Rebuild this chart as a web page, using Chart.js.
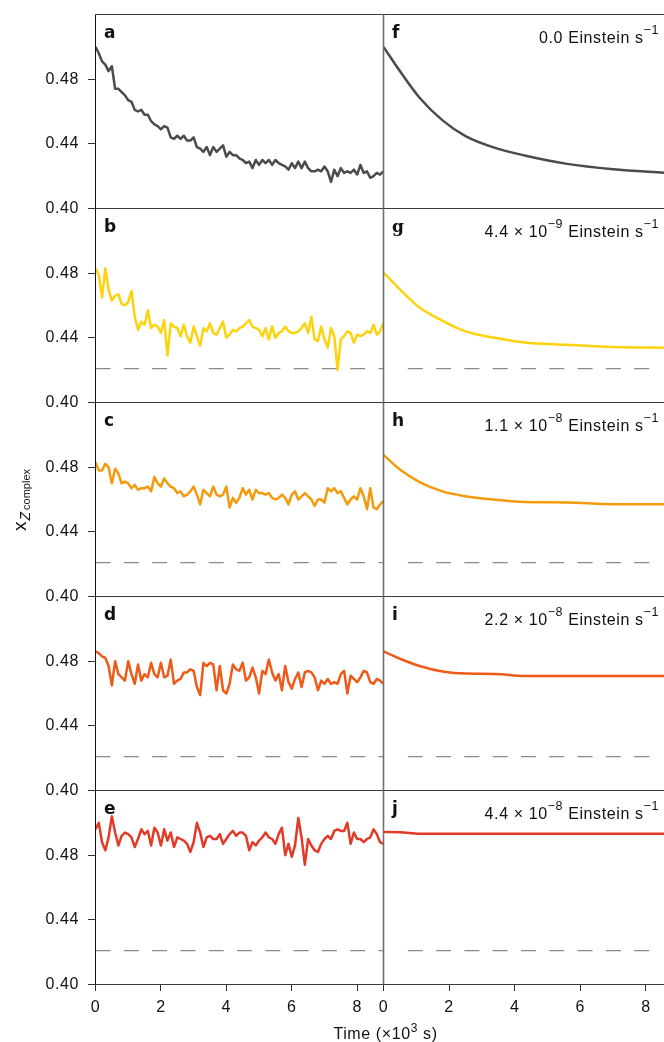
<!DOCTYPE html>
<html>
<head>
<meta charset="utf-8">
<script src="https://cdn.jsdelivr.net/npm/chart.js@4.4.1/dist/chart.umd.min.js"></script>
<style>
  html, body { margin: 0; padding: 0; background: #fff; overflow: hidden; }
  #fig { position: relative; width: 664px; height: 1042px; overflow: hidden;
         font-family: "Liberation Sans", Arial, sans-serif; color: #111; }
  #fig canvas { position: absolute; }
  .lab { position: absolute; font: bold 17px "DejaVu Sans", sans-serif; line-height: 17px; z-index: 2; }
  .note { position: absolute; right: 5px; font-size: 16px; line-height: 16px; letter-spacing: 0.6px;
          white-space: nowrap; z-index: 2; }
  .note .sup { font-size: 12.5px; position: relative; top: -9px; }
  #xtitle { position: absolute; left: 385.5px; top: 1026px; transform: translateX(-50%);
            font-size: 16px; line-height: 16px; letter-spacing: 0.6px; white-space: nowrap; }
  #xtitle .sup { font-size: 12px; position: relative; top: -7px; }
  #ytitle { position: absolute; left: 21px; top: 500px; transform: translate(-50%, -50%) rotate(-90deg);
            white-space: nowrap; font-size: 19px; line-height: 19px; }
  #ytitle .z { font-size: 14px; font-style: italic; position: relative; top: 4px; margin-left: 1px; }
  #ytitle .cx { font-size: 11px; position: relative; top: 4px; margin-left: 2px; }
</style>
</head>
<body>
<div id="fig"></div>
<script>
// time (x10^3 s) for the measured traces a-e
const timeLeft = [0, 0.1, 0.2, 0.3, 0.4, 0.5, 0.6, 0.7, 0.8, 0.9,
  1.0, 1.1, 1.2, 1.3, 1.4, 1.5, 1.6, 1.7, 1.8, 1.9,
  2.0, 2.1, 2.2, 2.3, 2.4, 2.5, 2.6, 2.7, 2.8, 2.9,
  3.0, 3.1, 3.2, 3.3, 3.4, 3.5, 3.6, 3.7, 3.8, 3.9,
  4.0, 4.1, 4.2, 4.3, 4.4, 4.5, 4.6, 4.7, 4.8, 4.9,
  5.0, 5.1, 5.2, 5.3, 5.4, 5.5, 5.6, 5.7, 5.8, 5.9,
  6.0, 6.1, 6.2, 6.3, 6.4, 6.5, 6.6, 6.7, 6.8, 6.9,
  7.0, 7.1, 7.2, 7.3, 7.4, 7.5, 7.6, 7.7, 7.8, 7.9,
  8.0, 8.1, 8.2, 8.3, 8.4, 8.5, 8.6, 8.7, 8.8];

const seriesA = [0.500, 0.496, 0.491, 0.489, 0.485, 0.488, 0.474, 0.474, 0.472, 0.470,
  0.467, 0.466, 0.461, 0.460, 0.461, 0.458, 0.458, 0.454, 0.452, 0.451,
  0.449, 0.451, 0.450, 0.444, 0.443, 0.445, 0.443, 0.445, 0.442, 0.442,
  0.444, 0.438, 0.437, 0.435, 0.438, 0.433, 0.438, 0.435, 0.437, 0.439,
  0.432, 0.435, 0.433, 0.433, 0.431, 0.430, 0.428, 0.429, 0.425, 0.430,
  0.427, 0.430, 0.428, 0.430, 0.427, 0.430, 0.428, 0.427, 0.426, 0.424,
  0.428, 0.425, 0.429, 0.425, 0.429, 0.425, 0.423, 0.423, 0.424, 0.423,
  0.426, 0.423, 0.4165, 0.424, 0.420, 0.425, 0.422, 0.423, 0.422, 0.424,
  0.421, 0.427, 0.422, 0.423, 0.419, 0.420, 0.422, 0.421, 0.423];

const seriesB = [0.483, 0.479, 0.465, 0.483, 0.470, 0.463, 0.466, 0.467, 0.461, 0.460,
  0.462, 0.469, 0.453, 0.445, 0.450, 0.448, 0.457, 0.446, 0.448, 0.447,
  0.443, 0.451, 0.429, 0.449, 0.447, 0.446, 0.441, 0.448, 0.441, 0.437,
  0.447, 0.441, 0.435, 0.446, 0.444, 0.449, 0.443, 0.442, 0.446, 0.450,
  0.440, 0.442, 0.445, 0.444, 0.446, 0.447, 0.449, 0.451, 0.447, 0.446,
  0.445, 0.441, 0.446, 0.439, 0.447, 0.440, 0.443, 0.444, 0.447, 0.444,
  0.443, 0.443, 0.444, 0.446, 0.449, 0.443, 0.453, 0.439, 0.438, 0.447,
  0.439, 0.434, 0.446, 0.441, 0.420, 0.439, 0.441, 0.444, 0.443, 0.437,
  0.442, 0.441, 0.442, 0.444, 0.443, 0.448, 0.442, 0.444, 0.449];

const seriesC = [0.483, 0.478, 0.478, 0.482, 0.480, 0.470, 0.479, 0.476, 0.470, 0.471,
  0.470, 0.467, 0.469, 0.466, 0.467, 0.467, 0.468, 0.465, 0.474, 0.470,
  0.468, 0.473, 0.470, 0.468, 0.467, 0.464, 0.465, 0.462, 0.463, 0.465,
  0.468, 0.463, 0.457, 0.466, 0.464, 0.462, 0.468, 0.463, 0.462, 0.463,
  0.468, 0.455, 0.461, 0.458, 0.461, 0.467, 0.463, 0.466, 0.460, 0.466,
  0.464, 0.464, 0.463, 0.464, 0.461, 0.460, 0.461, 0.463, 0.461, 0.457,
  0.463, 0.465, 0.460, 0.462, 0.464, 0.462, 0.460, 0.456, 0.460, 0.460,
  0.458, 0.467, 0.465, 0.467, 0.464, 0.465, 0.461, 0.457, 0.460, 0.462,
  0.460, 0.467, 0.462, 0.454, 0.467, 0.455, 0.454, 0.457, 0.459];

const seriesD = [0.486, 0.485, 0.483, 0.482, 0.477, 0.465, 0.480, 0.472, 0.470, 0.468,
  0.480, 0.472, 0.466, 0.478, 0.468, 0.472, 0.470, 0.479, 0.472, 0.470,
  0.479, 0.470, 0.471, 0.481, 0.466, 0.468, 0.469, 0.473, 0.473, 0.475,
  0.474, 0.464, 0.459, 0.479, 0.477, 0.479, 0.478, 0.462, 0.477, 0.462,
  0.460, 0.466, 0.478, 0.475, 0.474, 0.479, 0.468, 0.470, 0.476, 0.470,
  0.460, 0.474, 0.472, 0.481, 0.473, 0.468, 0.472, 0.462, 0.477, 0.467,
  0.463, 0.469, 0.473, 0.464, 0.473, 0.474, 0.473, 0.470, 0.462, 0.468,
  0.466, 0.469, 0.466, 0.467, 0.466, 0.472, 0.474, 0.460, 0.471, 0.469,
  0.467, 0.470, 0.474, 0.473, 0.467, 0.466, 0.469, 0.468, 0.466];

const seriesE = [0.496, 0.500, 0.488, 0.483, 0.491, 0.504, 0.494, 0.486, 0.492, 0.494,
  0.493, 0.491, 0.485, 0.490, 0.496, 0.493, 0.495, 0.486, 0.497, 0.494,
  0.486, 0.496, 0.489, 0.494, 0.485, 0.491, 0.490, 0.489, 0.487, 0.482,
  0.488, 0.500, 0.494, 0.485, 0.491, 0.492, 0.490, 0.490, 0.493, 0.487,
  0.490, 0.493, 0.495, 0.492, 0.494, 0.494, 0.492, 0.483, 0.488, 0.486,
  0.489, 0.491, 0.494, 0.491, 0.490, 0.487, 0.493, 0.497, 0.480, 0.487,
  0.479, 0.486, 0.503, 0.491, 0.474, 0.490, 0.486, 0.483, 0.482, 0.487,
  0.490, 0.492, 0.490, 0.495, 0.496, 0.495, 0.495, 0.500, 0.487, 0.494,
  0.490, 0.490, 0.488, 0.490, 0.491, 0.496, 0.493, 0.488, 0.487];

// time (x10^3 s) for the simulated traces f-j
const timeRight = [0, 0.5, 1.1, 1.8, 2.5, 3.4, 4.3, 5.6, 7.0, 8.6];
const seriesF = [0.500, 0.485, 0.4685, 0.4545, 0.4448, 0.4375, 0.4328, 0.4276, 0.4243, 0.4220];
const seriesG = [0.4804, 0.4700, 0.4587, 0.4505, 0.4440, 0.4400, 0.4371, 0.4357, 0.4343, 0.4339];
const seriesH = [0.4876, 0.4785, 0.4708, 0.4650, 0.4620, 0.4599, 0.4584, 0.4582, 0.4571, 0.4571];
const seriesI = [0.4860, 0.4815, 0.4770, 0.4736, 0.4723, 0.4721, 0.4709, 0.4709, 0.4709, 0.4709];
const seriesJ = [0.4943, 0.4942, 0.4932, 0.4932, 0.4932, 0.4932, 0.4932, 0.4932, 0.4932, 0.4932];

const yTicks = [0.40, 0.44, 0.48];
const xTicks = [0, 2, 4, 6, 8];
const refLevel = 0.421;            // dashed reference (dark equilibrium)
const refSpanLeft = [0, 8.82];
const refSpanRight = [0.74, 8.12];

const lettersLeft = ['a', 'b', 'c', 'd', 'e'];
const lettersRight = ['f', 'g', 'h', 'i', 'j'];
const rateMantissa = ['0.0', '4.4', '1.1', '2.2', '4.4'];
const rateExponent = [null, '−9', '−8', '−8', '−8'];
const rowColors = ['#4b4b4b', '#fdd20e', '#f49a0c', '#ef5a19', '#e23a27'];

const seriesLeft = [seriesA, seriesB, seriesC, seriesD, seriesE];
const seriesRight = [seriesF, seriesG, seriesH, seriesI, seriesJ];

const fig = document.getElementById('fig');
const ROW_H = 194, TOP0 = 14.5;
const xMaxLeft = 8.82, xMaxRight = 8.55;
const tickFont = { family: '"Liberation Sans", Arial, sans-serif', size: 16 };

// draws the panel frame lines
const framePlugin = {
  id: 'frame',
  afterDatasetsDraw(chart) {
    const o = chart.options.plugins.frame;
    const a = chart.chartArea;
    const ctx = chart.ctx;
    const line = (x1, y1, x2, y2) => { ctx.beginPath(); ctx.moveTo(x1, y1); ctx.lineTo(x2, y2); ctx.stroke(); };
    ctx.save();
    ctx.strokeStyle = '#3c3c3c';
    ctx.lineWidth = 1;
    line(a.left, a.top, a.right, a.top);
    if (o.bottom) line(a.left, a.bottom, a.right, a.bottom);
    ctx.strokeStyle = o.leftColor;
    ctx.lineWidth = o.leftWidth;
    line(a.left, a.top, a.left, a.bottom);
    ctx.restore();
  }
};

const spacingPlugin = {
  id: 'spacing',
  beforeDraw(chart) { chart.ctx.letterSpacing = '0.6px'; }
};

function makePanel(col, row) {
  const bottom = row === 4;
  const w = col === 0 ? 404 : 320;
  const h = bottom ? 290 : 250;
  const cv = document.createElement('canvas');
  cv.width = w; cv.height = h;
  cv.style.left = (col === 0 ? 0 : 364) + 'px';
  cv.style.top = (ROW_H * row - 11) + 'px';
  cv.style.width = w + 'px'; cv.style.height = h + 'px';
  fig.appendChild(cv);

  const times = col === 0 ? timeLeft : timeRight;
  const values = col === 0 ? seriesLeft[row] : seriesRight[row];
  const span = col === 0 ? refSpanLeft : refSpanRight;

  const datasets = [{
    data: times.map((t, i) => ({ x: t, y: values[i] })),
    borderColor: rowColors[row],
    borderWidth: 2.5,
    pointRadius: 0,
    borderJoinStyle: 'round',
    cubicInterpolationMode: col === 0 ? 'default' : 'monotone',
    tension: 0
  }];
  if (row > 0) {
    datasets.push({
      data: span.map(t => ({ x: t, y: refLevel })),
      borderColor: '#8a8a8a',
      borderWidth: 1.3,
      borderDash: [15, 13.3],
      pointRadius: 0
    });
  }

  const xScale = {
    type: 'linear', min: 0, max: col === 0 ? xMaxLeft : xMaxRight,
    display: bottom,
    afterBuildTicks: s => { s.ticks = xTicks.map(v => ({ value: v })); },
    grid: { drawOnChartArea: false, tickLength: 6.5, color: '#333' },
    border: { display: false },
    ticks: { padding: 6.5, font: tickFont, color: '#111', maxRotation: 0, autoSkip: false }
  };
  if (bottom) xScale.afterFit = s => { s.height = 40; };

  const yScale = {
    min: 0.40, max: 0.52,
    display: col === 0,
    afterBuildTicks: s => { s.ticks = yTicks.map(v => ({ value: v })); },
    grid: { drawOnChartArea: false, tickLength: 7.5, color: '#333' },
    border: { display: false },
    ticks: { padding: 9, font: tickFont, color: '#111', callback: v => v.toFixed(2) }
  };
  if (col === 0) yScale.afterFit = s => { s.width = 95.5; };

  new Chart(cv, {
    type: 'line',
    data: { datasets },
    options: {
      responsive: false,
      animation: false,
      events: [],
      layout: { padding: { left: col === 0 ? 0 : 19.5, right: 20, top: 25.5, bottom: 30.5 } },
      plugins: {
        legend: { display: false },
        tooltip: { enabled: false },
        frame: {
          bottom: bottom,
          leftColor: col === 0 ? '#111' : '#707070',
          leftWidth: col === 0 ? 1 : 1.6
        }
      },
      scales: { x: xScale, y: yScale }
    },
    plugins: [framePlugin, spacingPlugin]
  });

  // panel letter
  const top = TOP0 + ROW_H * row;
  const lab = document.createElement('div');
  lab.className = 'lab';
  lab.textContent = col === 0 ? lettersLeft[row] : lettersRight[row];
  lab.style.left = (col === 0 ? 104 : 392) + 'px';
  lab.style.top = (top + 9.4) + 'px';
  if (lab.textContent === 'g') lab.style.fontFamily = '"DejaVu Serif", serif';
  fig.appendChild(lab);

  if (col === 1) {
    const note = document.createElement('div');
    note.className = 'note';
    note.style.top = (top + 15.5) + 'px';
    let html = rateMantissa[row];
    if (rateExponent[row]) html += ' × 10<span class="sup">' + rateExponent[row] + '</span>';
    html += ' Einstein s<span class="sup">−1</span>';
    note.innerHTML = html;
    fig.appendChild(note);
  }
}

for (let r = 0; r < 5; r++) {
  makePanel(0, r);
  makePanel(1, r);
}

const xt = document.createElement('div');
xt.id = 'xtitle';
xt.innerHTML = 'Time (×10<span class="sup">3</span> s)';
fig.appendChild(xt);

const yt = document.createElement('div');
yt.id = 'ytitle';
yt.innerHTML = 'x<span class="z">Z</span><span class="cx">complex</span>';
fig.appendChild(yt);
</script>
</body>
</html>
